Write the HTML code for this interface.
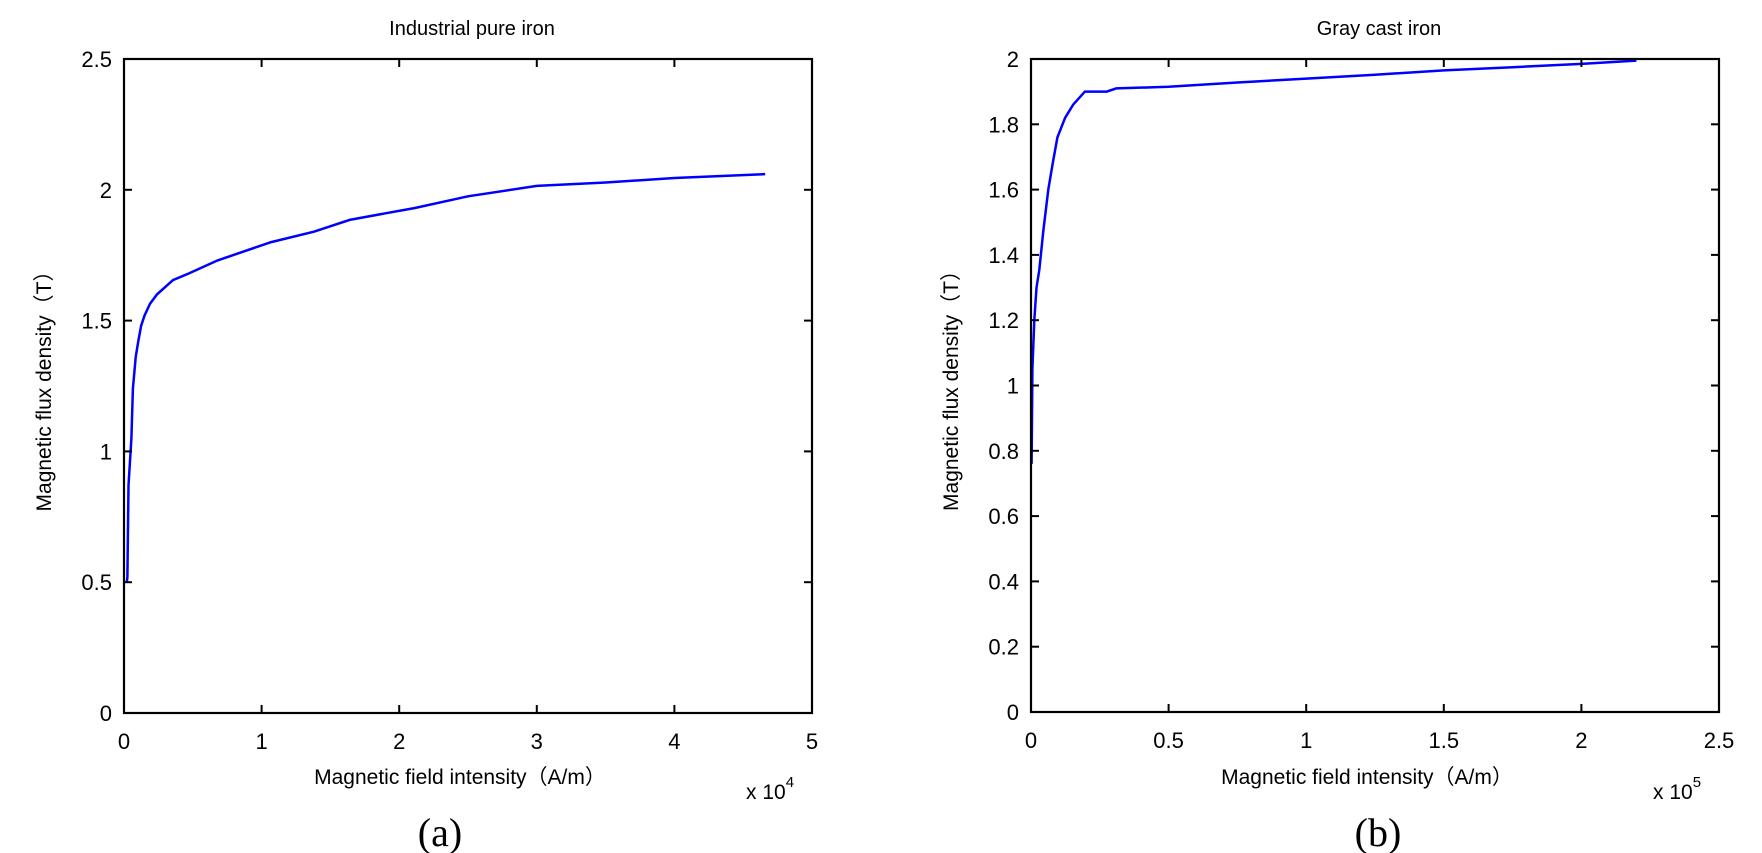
<!DOCTYPE html>
<html><head><meta charset="utf-8"><style>
html,body{margin:0;padding:0;background:#fff}
svg{display:block}
text{font-family:"Liberation Sans","Noto Sans CJK SC",sans-serif;fill:#000}
.t{font-size:22px}
.a{font-size:21px}
.s{font-family:"Liberation Serif",serif;font-size:40px}
</style></head><body>
<svg width="1762" height="853" viewBox="0 0 1762 853" xmlns="http://www.w3.org/2000/svg">
<g id="L"></g><g id="R"></g>
<text class="s" x="440" y="846" text-anchor="middle">(a)</text>
<text class="s" x="1378" y="846" text-anchor="middle">(b)</text>
</svg>
<script>
const NS="http://www.w3.org/2000/svg";
function el(p,n,a,t){const e=document.createElementNS(NS,n);for(const k in a)e.setAttribute(k,a[k]);if(t!==undefined)e.textContent=t;p.appendChild(e);return e;}
function plot(g,o){
 const {x0,x1,y0,y1,xmax,ymax,xt,yt,data,title,exp}=o;
 const X=v=>x0+(x1-x0)*v/xmax, Y=v=>y0-(y0-y1)*v/ymax;
 el(g,"polyline",{points:data.map(p=>X(p[0]).toFixed(1)+","+Y(p[1]).toFixed(1)).join(" "),fill:"none",stroke:"#0000ff","stroke-width":2.5});
 el(g,"rect",{x:x0,y:y1,width:x1-x0,height:y0-y1,fill:"none",stroke:"#000","stroke-width":2.2});
 xt.forEach(v=>{const x=X(v);el(g,"line",{x1:x,x2:x,y1:y0,y2:y0-8,stroke:"#000","stroke-width":2});el(g,"line",{x1:x,x2:x,y1:y1,y2:y1+8,stroke:"#000","stroke-width":2});el(g,"text",{x:x,y:y0+36,"text-anchor":"middle",class:"t"},String(v));});
 yt.forEach(v=>{const y=Y(v);el(g,"line",{x1:x0,x2:x0+8,y1:y,y2:y,stroke:"#000","stroke-width":2});el(g,"line",{x1:x1,x2:x1-8,y1:y,y2:y,stroke:"#000","stroke-width":2});el(g,"text",{x:x0-12,y:y+8,"text-anchor":"end",class:"t"},String(v));});
 const cx=(x0+x1)/2;
 el(g,"text",{x:cx+4,y:35,"text-anchor":"middle",style:"font-size:20px"},title);
 el(g,"text",{x:cx-8,y:784,"text-anchor":"middle",class:"a"},"Magnetic field intensity（A/m）");
 el(g,"text",{x:x0-80,y:(y0+y1)/2,"text-anchor":"middle",class:"a",transform:`rotate(-90 ${x0-80} ${(y0+y1)/2}) translate(0,7)`},"Magnetic flux density（T）");
 const ex=el(g,"text",{x:x1-66,y:799,class:"a"},"x 10");
 el(ex,"tspan",{dy:-12,style:"font-size:15px"},exp);
}
plot(document.getElementById("L"),{x0:124,x1:812,y0:713,y1:59,xmax:5,ymax:2.5,xt:[0,1,2,3,4,5],yt:[0,0.5,1,1.5,2,2.5],title:"Industrial pure iron",exp:"4",
data:[[0.02,0.5],[0.025,0.52],[0.033,0.87],[0.054,1.05],[0.065,1.24],[0.085,1.36],[0.10,1.41],[0.124,1.48],[0.15,1.52],[0.19,1.565],[0.24,1.60],[0.356,1.655],[0.47,1.68],[0.68,1.73],[1.07,1.80],[1.38,1.84],[1.64,1.885],[1.90,1.91],[2.11,1.93],[2.5,1.975],[3.0,2.015],[3.5,2.028],[4.0,2.045],[4.66,2.06]]});
plot(document.getElementById("R"),{x0:1031,x1:1719,y0:712,y1:59,xmax:2.5,ymax:2,xt:[0,0.5,1,1.5,2,2.5],yt:[0,0.2,0.4,0.6,0.8,1,1.2,1.4,1.6,1.8,2],title:"Gray cast iron",exp:"5",
data:[[0.002,0.76],[0.005,1.05],[0.012,1.2],[0.02,1.3],[0.03,1.354],[0.045,1.476],[0.063,1.60],[0.079,1.68],[0.096,1.76],[0.124,1.82],[0.153,1.86],[0.196,1.90],[0.275,1.90],[0.31,1.91],[0.5,1.915],[0.75,1.928],[1.0,1.94],[1.25,1.952],[1.5,1.965],[1.75,1.975],[2.0,1.985],[2.2,1.995]]});
</script>
</body></html>
